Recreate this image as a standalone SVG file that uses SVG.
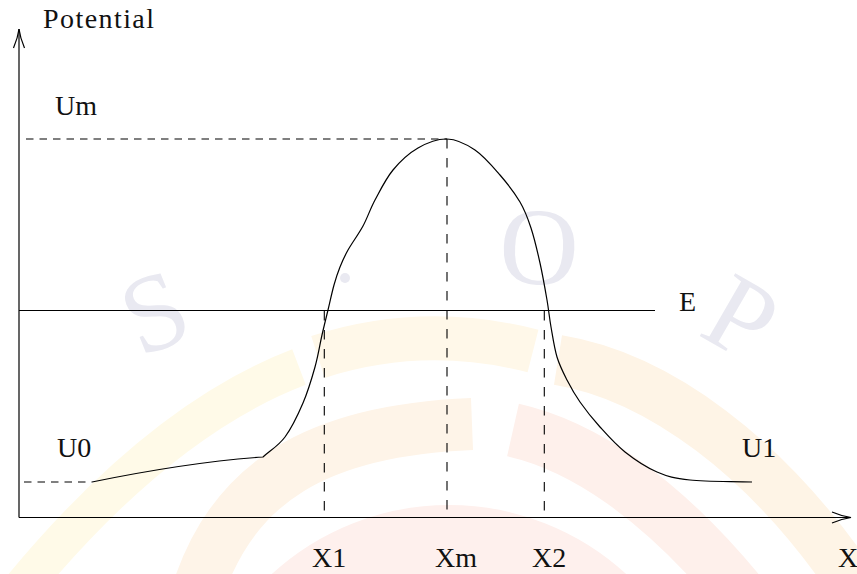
<svg xmlns="http://www.w3.org/2000/svg" width="857" height="574" viewBox="0 0 857 574">
  <style>
    .ln { fill: none; stroke: #000; stroke-width: 1.2; }
    .dh { fill: none; stroke: #000; stroke-width: 1.1; stroke-dasharray: 7.5 6; }
    .dv { fill: none; stroke: #000; stroke-width: 1.1; stroke-dasharray: 9.5 9.5; }
    .lbl { font-size: 28px; fill: #111; }
    .wm { fill: none; stroke-linecap: butt; }
    .wmt { font-size: 110px; fill: #e9e9f1; }
  </style>
  <defs>
    <marker id="arr" markerUnits="userSpaceOnUse" markerWidth="26" markerHeight="16" viewBox="-22 -8 26 16" refX="0" refY="0" orient="auto" overflow="visible">
      <path d="M-19,-5.5 Q-9,-1.2 0,0 Q-9,1.2 -19,5.5" fill="none" stroke="#000" stroke-width="1.2"/>
    </marker>
  </defs>
  <rect x="0" y="0" width="857" height="574" fill="#fff"/>

  <g id="watermark">
    <path class="wm" d="M299,367 Q160,420 20,590" stroke="#fffae8" stroke-width="38"/>
    <path class="wm" d="M318,357 Q423,323 533,351" stroke="#fff8e9" stroke-width="44"/>
    <path class="wm" d="M558,360 C650,375 770,450 870,610" stroke="#fef4e6" stroke-width="50"/>
    <path class="wm" d="M195,600 C230,480 320,430 472,424" stroke="#fef4e8" stroke-width="52"/>
    <path class="wm" d="M513,430 C580,445 660,495 745,600" stroke="#fef0eb" stroke-width="54"/>
    <path class="wm" d="M228,767 A221,221 0 0 1 670,767" stroke="#fef0ed" stroke-width="82"/>
    <g font-family="'Liberation Serif', 'DejaVu Serif', serif">
      <text class="wmt" x="155" y="349" text-anchor="middle" transform="rotate(-22 155 313)">S</text>
      <text class="wmt" x="539" y="284" text-anchor="middle" transform="rotate(3 539 248)">O</text>
      <text class="wmt" x="741" y="354" text-anchor="middle" transform="rotate(30 741 318)">P</text>
    </g>
    <circle cx="345" cy="278" r="5" fill="#e9e9f1"/>
  </g>

  <g id="axes">
    <path class="ln" d="M19,517.5 L19,29" marker-end="url(#arr)"/>
    <path class="ln" d="M19,517.5 L851,517.5" marker-end="url(#arr)"/>
  </g>

  <g id="connectors">
    <path class="dh" d="M26,139 L447,139"/>
    <path class="dh" d="M24,482 L92,482"/>
    <path class="dv" d="M447,139 L447,517"/>
    <path class="dv" d="M324.3,311 L324.3,517"/>
    <path class="dv" d="M544.3,311 L544.3,517"/>
    <path id="energy-line" class="ln" d="M19,310.5 L655,310.5"/>
  </g>

  <g id="curve">
    <path class="ln" d="M92,482 Q190,462 263,457
      C270.33,450.33 278.33,446 285,437
      C291.67,428 298,414.67 303,403
      C308,391.33 311.83,378.33 315,367
      C318.17,355.67 319.83,344.5 322,335
      C324.17,325.5 326,318.33 328,310
      C330,301.67 332,292.17 334,285
      C336,277.83 337.67,272.83 340,267
      C342.33,261.17 344.17,256.83 348,250
      C351.83,243.17 358.5,234.33 363,226
      C367.5,217.67 370,209.33 375,200
      C380,190.67 385.83,178.67 393,170
      C400.17,161.33 409,153.17 418,148
      C427,142.83 437.5,138.67 447,139
      C456.5,139.33 466.17,144 475,150
      C483.83,156 492.5,166.33 500,175
      C507.5,183.67 514.83,193.17 520,202
      C525.17,210.83 527.67,217.83 531,228
      C534.33,238.17 537.33,251 540,263
      C542.67,275 545.17,289.33 547,300
      C548.83,310.67 549.33,317.5 551,327
      C552.67,336.5 554.33,348.17 557,357
      C559.67,365.83 563.17,372.5 567,380
      C570.83,387.5 574.5,394.17 580,402
      C585.5,409.83 592.5,418.67 600,427
      C607.5,435.33 615.5,444.5 625,452
      C634.5,459.5 646.17,467.33 657,472
      C667.83,476.67 674.17,478.33 690,480
      C705.83,481.67 731.33,481.33 752,482"/>
  </g>

  <g id="labels" font-family="'Liberation Serif', 'DejaVu Serif', serif">
    <g id="label-potential"><text class="lbl" x="43" y="28" textLength="111" lengthAdjust="spacing">Potential</text></g>
    <g id="label-um"><text class="lbl" x="55" y="115">Um</text></g>
    <g id="label-e"><text class="lbl" x="679" y="311">E</text></g>
    <g id="label-u0"><text class="lbl" x="57" y="457">U0</text></g>
    <g id="label-u1"><text class="lbl" x="742" y="457">U1</text></g>
    <g id="label-x1"><text class="lbl" x="312" y="567">X1</text></g>
    <g id="label-xm"><text class="lbl" x="435" y="567">Xm</text></g>
    <g id="label-x2"><text class="lbl" x="532" y="567">X2</text></g>
    <g id="label-x"><text class="lbl" x="838" y="567">X</text></g>
  </g>
</svg>
